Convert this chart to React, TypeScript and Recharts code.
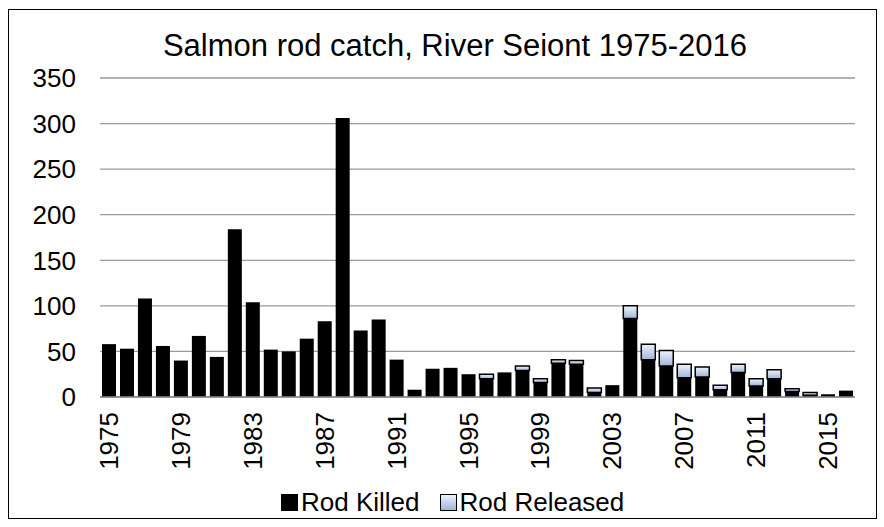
import React from 'react';
import { BarChart, Bar, XAxis, YAxis, CartesianGrid, Legend } from 'recharts';

const years = [
  '1975', '1976', '1977', '1978', '1979', '1980', '1981', '1982', '1983', '1984',
  '1985', '1986', '1987', '1988', '1989', '1990', '1991', '1992', '1993', '1994',
  '1995', '1996', '1997', '1998', '1999', '2000', '2001', '2002', '2003', '2004',
  '2005', '2006', '2007', '2008', '2009', '2010', '2011', '2012', '2013', '2014',
  '2015', '2016',
];

const rodKilled = [
  58, 53, 108, 56, 40, 67, 44, 184, 104, 52,
  50, 64, 83, 306, 73, 85, 41, 8, 31, 32,
  25, 20, 27, 29, 16, 37, 36, 5, 13, 86,
  41, 34, 21, 22, 8, 27, 12, 20, 6, 2,
  3, 7,
];

const rodReleased = [
  0, 0, 0, 0, 0, 0, 0, 0, 0, 0,
  0, 0, 0, 0, 0, 0, 0, 0, 0, 0,
  0, 5, 0, 5, 4, 4, 4, 5, 0, 14,
  17, 17, 15, 11, 5, 9, 8, 10, 3, 3,
  0, 0,
];

const yTicks = [0, 50, 100, 150, 200, 250, 300, 350];
const seriesNames = ['Rod Killed', 'Rod Released'];
const title = 'Salmon rod catch, River Seiont 1975-2016';

const data = years.map((year, i) => ({
  year,
  killed: rodKilled[i],
  released: rodReleased[i],
}));

const FONT = '"Liberation Sans", Arial, sans-serif';

function XTick(props: any) {
  const { x, y, payload } = props;
  return (
    <text
      x={x}
      y={y}
      transform={`rotate(-90 ${x} ${y})`}
      textAnchor="end"
      dominantBaseline="central"
      fontSize={26}
      fontFamily={FONT}
      fill="#000"
    >
      {payload.value}
    </text>
  );
}

function LegendContent() {
  const sq = (bg: string): React.CSSProperties => ({
    width: 15,
    height: 15,
    border: '1.5px solid #000',
    background: bg,
    marginRight: 3,
    display: 'inline-block',
  });
  return (
    <div
      style={{
        height: 30,
        display: 'flex',
        alignItems: 'center',
        paddingLeft: 281,
        fontFamily: FONT,
        fontSize: 26,
        color: '#000',
        whiteSpace: 'nowrap',
      }}
    >
      <span style={sq('#000')} />
      <span style={{ marginRight: 20 }}>{seriesNames[0]}</span>
      <span style={sq('linear-gradient(#eef3fb, #9fb5da)')} />
      <span>{seriesNames[1]}</span>
    </div>
  );
}

export default function App() {
  return (
    <div style={{ position: 'absolute', left: 0, top: 0, width: 884, height: 527, background: '#fff' }}>
      <div
        style={{
          position: 'absolute',
          left: 8,
          top: 9,
          width: 869,
          height: 510,
          border: '1px solid #000',
          boxSizing: 'border-box',
        }}
      />
      <BarChart
        width={884}
        height={527}
        data={data}
        margin={{ top: 78, right: 29, bottom: 10, left: 0 }}
        barCategoryGap={2}
      >
        <defs>
          <linearGradient id="relGrad" x1="0" y1="0" x2="0" y2="1">
            <stop offset="0%" stopColor="#eef3fb" />
            <stop offset="100%" stopColor="#9fb5da" />
          </linearGradient>
        </defs>
        <CartesianGrid vertical={false} stroke="#9a9a9a" strokeWidth={1.3} />
        <XAxis
          dataKey="year"
          interval={3}
          tickLine={false}
          tickSize={0}
          tickMargin={15}
          height={90}
          axisLine={{ stroke: '#8c8c8c', strokeWidth: 1.3 }}
          tick={<XTick />}
        />
        <YAxis
          width={100}
          domain={[0, 350]}
          ticks={yTicks}
          tickLine={false}
          axisLine={false}
          tickSize={0}
          tickMargin={24}
          tick={{ fontSize: 26, fontFamily: FONT, fill: '#000' }}
        />
        <Legend verticalAlign="bottom" align="left" content={<LegendContent />} wrapperStyle={{ left: 0, width: 884 }} />
        <Bar dataKey="killed" name={seriesNames[0]} stackId="a" fill="#000" isAnimationActive={false} />
        <Bar
          dataKey="released"
          name={seriesNames[1]}
          stackId="a"
          fill="url(#relGrad)"
          stroke="#000"
          strokeWidth={1.5}
          isAnimationActive={false}
        />
      </BarChart>
      <svg width={884} height={80} style={{ position: 'absolute', left: 0, top: 0, pointerEvents: 'none' }}>
        <text x={455} y={56} textAnchor="middle" fontSize={31} fontFamily={FONT} fill="#000">
          {title}
        </text>
      </svg>
    </div>
  );
}
